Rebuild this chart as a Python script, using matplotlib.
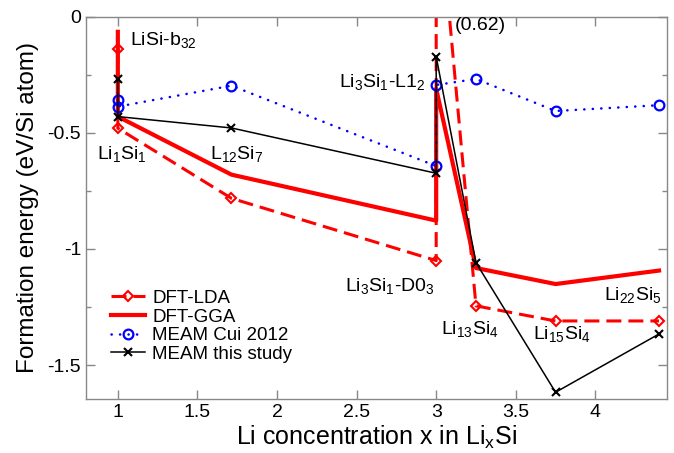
import matplotlib
matplotlib.use("Agg")
import matplotlib.pyplot as plt
from matplotlib.ticker import MultipleLocator

plt.rcParams['font.family'] = ['Liberation Sans', 'DejaVu Sans']
plt.rcParams['mathtext.fontset'] = 'custom'
plt.rcParams['mathtext.rm'] = 'Liberation Sans'
plt.rcParams['mathtext.default'] = 'regular'
plt.rcParams['axes.unicode_minus'] = False

# formation energies (eV/Si atom) vs Li concentration x
lda_x = [1, 1, 1.714, 3, 3, 3.25, 3.75, 4.4]
lda_y = [-0.14, -0.48, -0.782, -1.05, 0.62, -1.245, -1.31, -1.31]

gga_x = [1, 1, 1.714, 3, 3, 3.25, 3.75, 4.4]
gga_y = [-0.065, -0.43, -0.68, -0.878, -0.31, -1.082, -1.151, -1.093]

cui_x = [1, 1, 1.714, 3, 3, 3.25, 3.75, 4.4]
cui_y = [-0.358, -0.387, -0.297, -0.643, -0.294, -0.268, -0.406, -0.381]

meam_x = [1, 1, 1.714, 3, 3, 3.25, 3.75, 4.4]
meam_y = [-0.268, -0.43, -0.479, -0.674, -0.172, -1.059, -1.617, -1.366]

labels = [
    (1.075, -0.122, r'LiSi-b$_{32}$', 'left'),
    (0.866, -0.614, r'Li$_{1}$Si$_{1}$', 'left'),
    (1.578, -0.614, r'L$_{12}$Si$_{7}$', 'left'),
    (2.93, -0.304, r'Li$_{3}$Si$_{1}$-L1$_{2}$', 'right'),
    (2.99, -1.18, r'Li$_{3}$Si$_{1}$-D0$_{3}$', 'right'),
    (3.115, -0.057, '(0.62)', 'left'),
    (3.031, -1.366, r'Li$_{13}$Si$_{4}$', 'left'),
    (3.611, -1.389, r'Li$_{15}$Si$_{4}$', 'left'),
    (4.057, -1.22, r'Li$_{22}$Si$_{5}$', 'left'),
]

fig = plt.figure(figsize=(6.74, 4.53), dpi=100)
ax = fig.add_axes([0.1276, 0.1192, 0.862, 0.8439])

ax.plot(lda_x, lda_y, color='red', lw=2.2, dashes=(4.9, 2.3),
        marker='D', ms=5.5, mfc='none', mec='red', mew=1.5, label='DFT-LDA')
ax.plot(gga_x, gga_y, color='red', lw=3.0, label='DFT-GGA')
ax.plot(cui_x, cui_y, color='blue', lw=1.8, linestyle=(0, (0.1, 3.3)),
        dash_capstyle='round', marker='o', ms=7, mfc='none', mec='blue',
        mew=1.6, label='MEAM Cui 2012')
ax.plot(meam_x, meam_y, color='black', lw=1.1, marker='x', ms=6, mew=1.5,
        label='MEAM this study')

for x, y, s, ha in labels:
    ax.text(x, y, s, fontsize=14, ha=ha, va='baseline')

ax.set_xlim(0.8, 4.45)
ax.set_ylim(-1.646, 0)
ax.xaxis.set_major_locator(MultipleLocator(0.5))
ax.yaxis.set_major_locator(MultipleLocator(0.5))
ax.yaxis.set_minor_locator(MultipleLocator(0.25))
ax.set_xticks([1, 1.5, 2, 2.5, 3, 3.5, 4])
ax.set_xticklabels(['1', '1.5', '2', '2.5', '3', '3.5', '4'])
ax.set_yticks([0, -0.5, -1, -1.5])
ax.set_yticklabels(['0', '-0.5', '-1', '-1.5'])

ax.tick_params(which='both', direction='in', top=True, right=True,
               color='#888888', labelsize=14)
ax.tick_params(which='major', length=6.5, width=1)
ax.tick_params(which='minor', length=3.8, width=1)
for side in ['top', 'left', 'bottom', 'right']:
    ax.spines[side].set_color('#888888')
    ax.spines[side].set_linewidth(1)

ax.set_xlabel(r'Li concentration x in Li$_{x}$Si', fontsize=18, labelpad=2)
ax.set_ylabel('Formation energy (eV/Si atom)', fontsize=17.5, labelpad=6)

ax.legend(loc='upper left', bbox_to_anchor=(0.03, 0.305), frameon=False,
          fontsize=13.5, handlelength=1.8, handletextpad=0.4,
          labelspacing=0.08, borderaxespad=0)

fig.savefig('out.png', dpi=100)
